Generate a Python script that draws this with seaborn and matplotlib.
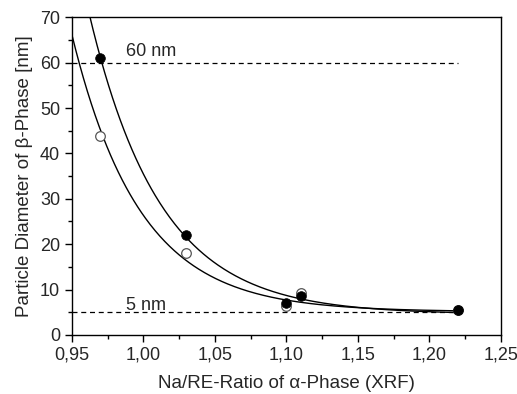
import numpy as np
import pandas as pd
import seaborn as sns
import matplotlib.pyplot as plt

# Data
ratio = [0.97, 1.03, 1.10, 1.11, 1.22]
diam_filled = [61.0, 22.0, 7.0, 8.6, 5.5]
diam_open = [43.9, 18.0, 6.4, 9.2, 5.4]
limit_lines = [60, 5]
limit_labels = ["60 nm", "5 nm"]

sns.set_style("ticks")
plt.rcParams['font.family'] = ['Liberation Sans', 'DejaVu Sans']
plt.rcParams['font.size'] = 13


def exp_fit(x, y, wpow=0.0):
    # y = y0 + A*exp(-(x - 0.95)/t), weighted least squares (sigma ~ y**wpow) over a grid of t
    x = np.asarray(x)
    y = np.asarray(y)
    w = 1.0 / y ** wpow
    best = None
    for t in np.linspace(0.01, 0.2, 2000):
        M = np.column_stack([np.ones_like(x), np.exp(-(x - 0.95) / t)])
        coef, *_ = np.linalg.lstsq(M * w[:, None], y * w, rcond=None)
        err = np.sum(((M @ coef - y) * w) ** 2)
        if best is None or err < best[0]:
            best = (err, t, coef)
    _, t, (y0, a) = best
    return lambda xx: y0 + a * np.exp(-(xx - 0.95) / t)


df = pd.DataFrame({'ratio': ratio * 2,
                   'diam': diam_open + diam_filled,
                   'kind': ['open'] * 5 + ['filled'] * 5})

xs = np.linspace(0.95, max(ratio), 400)
fit_filled = exp_fit(ratio, diam_filled, 0.0)
fit_open = exp_fit(ratio, diam_open, 1.0)
curves = pd.DataFrame({'x': np.concatenate([xs, xs]),
                       'y': np.concatenate([fit_filled(xs), fit_open(xs)]),
                       'kind': ['filled'] * len(xs) + ['open'] * len(xs)})

fig = plt.figure(figsize=(5.17, 3.94), dpi=100)
ax = fig.add_axes([0.139, 0.150, 0.830, 0.806])

for lvl in limit_lines:
    ax.plot([0.95, 1.22], [lvl, lvl], ls=(0, (4, 3)), color='black', lw=0.9)

sns.lineplot(data=curves, x='x', y='y', units='kind', estimator=None,
             color='black', lw=1.0, ax=ax, sort=False)

sns.scatterplot(data=df[df.kind == 'open'], x='ratio', y='diam', ax=ax,
                s=48, facecolor='white', edgecolor='#555555', linewidth=0.9, zorder=3)
sns.scatterplot(data=df[df.kind == 'filled'], x='ratio', y='diam', ax=ax,
                s=48, color='black', edgecolor='black', zorder=4)

ax.text(0.988, 60.6, limit_labels[0], fontsize=13, va='bottom')
ax.text(0.988, 4.6, limit_labels[1], fontsize=13, va='bottom')

ax.set_xlim(0.95, 1.25)
ax.set_ylim(0, 70)
ax.set_xticks(np.arange(0.95, 1.2501, 0.05))
ax.set_xticklabels([f"{v:.2f}".replace('.', ',') for v in np.arange(0.95, 1.2501, 0.05)])
ax.set_xticks(np.arange(0.975, 1.25, 0.05), minor=True)
ax.set_yticks(range(0, 71, 10))
ax.set_yticks(range(5, 70, 10), minor=True)
ax.tick_params(which='major', length=5, width=1, direction='out', labelsize=13, color='black')
ax.tick_params(which='minor', length=3, width=1, direction='out', color='black')
for sp in ax.spines.values():
    sp.set_visible(True)
    sp.set_color('black')
    sp.set_linewidth(1.0)

ax.set_xlabel("Na/RE-Ratio of α-Phase (XRF)", fontsize=13.5, labelpad=8)
ax.set_ylabel("Particle Diameter of β-Phase [nm]", fontsize=13.5, labelpad=5)

fig.savefig('out.png', dpi=100)
